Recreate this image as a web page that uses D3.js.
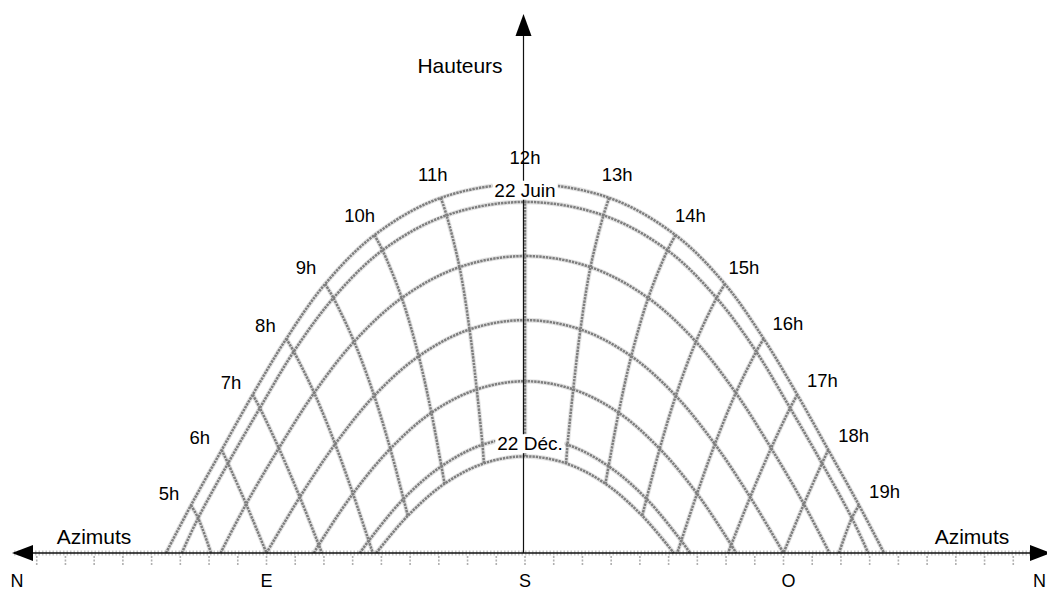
<!DOCTYPE html>
<html><head><meta charset="utf-8">
<script src="https://cdn.jsdelivr.net/npm/d3@7"></script>
<style>body{margin:0;background:#fff} text{font-family:"Liberation Sans",Arial,Helvetica,sans-serif;fill:#000}</style>
</head><body><svg id="c" width="1047" height="592"></svg>
<script>
// ---- data (azimuth ° from South, negative = East ; height ° above horizon) ----
const hourLabels = ["5h","6h","7h","8h","9h","10h","11h","12h","13h","14h","15h","16h","17h","18h","19h"];
const dayNames = ["22 Juin","21 Mai / Juil.","21 Avr. / Août","21 Mars / Sept.","21 Fév. / Oct.","21 Janv. / Nov.","22 Déc."];
const azJun = [-116.3,-105.6,-94.8,-83.1,-69.6,-52.4,-29.3,0,29.3,52.4,69.6,83.1,94.8,105.6,116.3];
const hJun  = [8.2,17.7,27.2,36.8,46.2,54.6,61.0,63.4,61.0,54.6,46.2,36.8,27.2,17.7,8.2];
const azMay = [-113.8,-103.4,-92.3,-80.5,-66.7,-49.6,-27.3,0,27.3,49.6,66.7,80.5,92.3,103.4,113.8];
const hMay  = [6.0,15.4,24.9,34.6,43.8,52.0,58.0,60.3,58.0,52.0,43.8,34.6,24.9,15.4,6.0];
const azApr = [null,-97.1,-85.7,-73.4,-59.5,-42.9,-22.8,0,22.8,42.9,59.5,73.4,85.7,97.1,null];
const hApr  = [null,8.4,18.0,27.5,36.3,43.8,49.1,51.0,49.1,43.8,36.3,27.5,18.0,8.4,null];
const azMar = [null,null,-78.4,-66.1,-52.5,-37.0,-19.3,0,19.3,37.0,52.5,66.1,78.4,null,null];
const hMar  = [null,null,9.6,18.7,27.0,33.8,38.4,40.0,38.4,33.8,27.0,18.7,9.6,null,null];
const azFeb = [null,null,-71.8,-59.9,-46.9,-32.6,-16.8,0,16.8,32.6,46.9,59.9,71.8,null,null];
const hFeb  = [null,null,1.4,10.2,17.9,24.1,28.1,29.5,28.1,24.1,17.9,10.2,1.4,null,null];
const azJan = [null,null,null,-54.4,-42.3,-29.1,-14.8,0,14.8,29.1,42.3,54.4,null,null,null];
const hJan  = [null,null,null,2.1,9.3,14.9,18.6,19.8,18.6,14.9,9.3,2.1,null,null,null];
const azDec = [null,null,null,null,-40.8,-28.0,-14.3,0,14.3,28.0,40.8,null,null,null,null];
const hDec  = [null,null,null,null,6.4,11.9,15.4,16.6,15.4,11.9,6.4,null,null,null,null];
const riseAz = [-125.0,-119.5,-106.0,-90.0,-73.5,-57.5,-51.8];
const setAz  = [125.0,119.5,106.0,90.0,73.5,57.5,51.8];
const hourHorizonAz = [-109.3,-90.0,-70.7,-53.0,null,null,null,null,null,null,null,53.0,70.7,90.0,109.3];
const azTicks = d3.range(-170,180,10);
const cardinals = [["N",-180],["E",-90],["S",0],["O",90],["N",180]];

const dayAz = [azJun,azMay,azApr,azMar,azFeb,azJan,azDec];
const dayH  = [hJun,hMay,hApr,hMar,hFeb,hJan,hDec];

// ---- drawing ----
const svg = d3.select("#c");
const x = d3.scaleLinear().domain([-180,180]).range([8,1042]);
const y = d3.scaleLinear().domain([0,90]).range([553,29]);
const line = d3.line().x(d=>x(d[0])).y(d=>y(d[1])).curve(d3.curveCatmullRom);
const haloStyle = s => s.attr("fill","none").attr("stroke","#c4c4c4").attr("stroke-width",4.6)
   .attr("stroke-opacity",0.45).attr("stroke-linejoin","round");
const gridStyle = s => s.attr("fill","none").attr("stroke","#7e7e7e").attr("stroke-width",2.5)
   .attr("stroke-dasharray","2.4,0.9").attr("stroke-linejoin","round");

// axis underlay (dotted grey band) and ticks
svg.append("line").attr("x1",14).attr("x2",1040).attr("y1",553).attr("y2",553)
  .attr("stroke","#9a9a9a").attr("stroke-width",5).attr("stroke-dasharray","1.5,2").attr("opacity",0.55);
svg.append("g").selectAll("line").data(azTicks).join("line")
  .attr("x1",d=>x(d)).attr("x2",d=>x(d)).attr("y1",556).attr("y2",565)
  .attr("stroke","#b0b0b0").attr("stroke-width",1.6).attr("stroke-dasharray","2,1.5");

const paths = [];
dayAz.forEach((az,d)=>{
  const pts=[[riseAz[d],0]];
  az.forEach((a,i)=>{ if(a!==null) pts.push([a,dayH[d][i]]); });
  pts.push([setAz[d],0]);
  paths.push(pts);
});
hourLabels.forEach((lab,i)=>{
  const pts=[];
  dayAz.forEach((az,d)=>{ if(az[i]!==null) pts.push([az[i],dayH[d][i]]); });
  if(hourHorizonAz[i]!==null) pts.push([hourHorizonAz[i],0]);
  paths.push(pts);
});
const halo = svg.append("g"), grid = svg.append("g");
paths.forEach(p=>{
  halo.append("path").attr("d",line(p)).call(haloStyle);
  grid.append("path").attr("d",line(p)).call(gridStyle);
});

// axes
svg.append("line").attr("x1",14).attr("x2",1040).attr("y1",553).attr("y2",553).attr("stroke","#111").attr("stroke-width",1.3);
svg.append("line").attr("x1",x(0)-1.5).attr("x2",x(0)-1.5).attr("y1",553).attr("y2",30).attr("stroke","#111").attr("stroke-width",1.2);
svg.append("path").attr("d",`M${x(0)-1.5},14 L${x(0)-9.5},36 L${x(0)+6.5},36 Z`).attr("fill","#000");
svg.append("path").attr("d",`M12,553 L33,545 L33,561 Z`).attr("fill","#000");
svg.append("path").attr("d",`M1051,553 L1030,545 L1030,561 Z`).attr("fill","#000");

// hour labels: offset along outward normal of the 22 Juin curve
const px = i=>[x(azJun[i]),y(hJun[i])];
const last = hourLabels.length-1;
hourLabels.forEach((lab,i)=>{
  const p=px(i);
  const a = i===0 ? [x(riseAz[0]),y(0)] : px(i-1);
  const b = i===last ? [x(setAz[0]),y(0)] : px(i+1);
  const tx=b[0]-a[0], ty=b[1]-a[1], L=Math.hypot(tx,ty);
  const nx=ty/L, ny=-tx/L;
  const off = i===7 ? 27 : (i>10 ? 29 : 25);
  svg.append("text").attr("x",p[0]+nx*off).attr("y",p[1]+ny*off).attr("dy","0.36em")
    .attr("text-anchor","middle").attr("font-size",18.5).text(lab);
});

// day labels with white background
function boxed(txt,cx,cy,fs){
  const t=svg.append("text").attr("x",cx).attr("y",cy).attr("dy","0.36em").attr("text-anchor","middle").attr("font-size",fs).text(txt);
  const b=t.node().getBBox();
  svg.insert("rect","text").attr("x",b.x-2).attr("y",b.y+1).attr("width",b.width+4).attr("height",b.height-2).attr("fill","#fff");
}
boxed(dayNames[0], x(0), y(hJun[7])+6, 19);
boxed(dayNames[6], x(0)+5, y(hDec[7])-13, 19);

// titles
svg.append("text").attr("x",460).attr("y",73).attr("text-anchor","middle").attr("font-size",21).text("Hauteurs");
svg.append("text").attr("x",94).attr("y",544).attr("text-anchor","middle").attr("font-size",21).text("Azimuts");
svg.append("text").attr("x",972).attr("y",544).attr("text-anchor","middle").attr("font-size",21).text("Azimuts");
cardinals.forEach(([t,a],i)=>{
  let cx = x(a), anchor="middle";
  if(i===0) cx = 17;
  if(i===4){ cx = 1046; anchor="end"; }
  if(a===90) cx = x(a)+5;
  svg.append("text").attr("x",cx).attr("y",587).attr("text-anchor",anchor).attr("font-size",18).text(t);
});
</script></body></html>
